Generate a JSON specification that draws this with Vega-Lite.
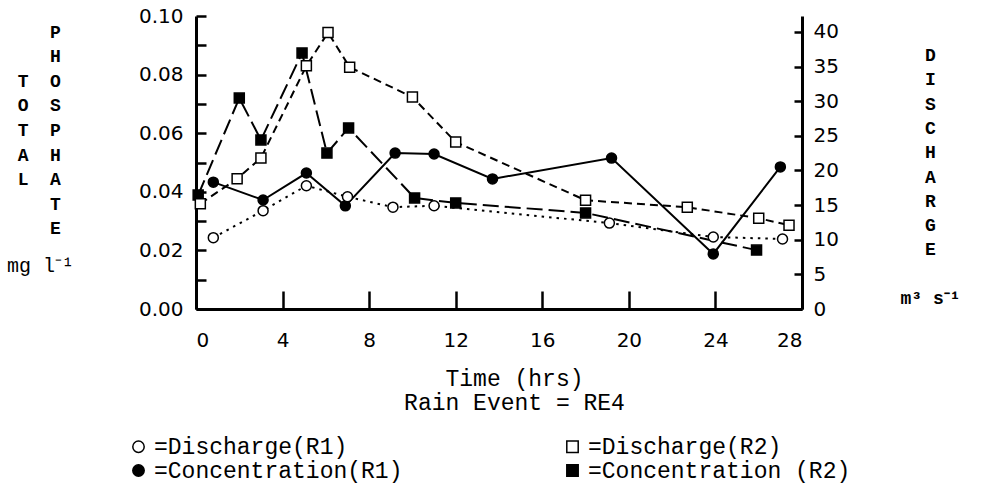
{
  "$schema": "https://vega.github.io/schema/vega-lite/v6.json",
  "width": 606,
  "height": 293,
  "autosize": "none",
  "padding": {"left": 196, "top": 16, "right": 187, "bottom": 175},
  "background": "white",
  "config": {
    "view": {"stroke": null},
    "axis": {"grid": false, "domainColor": "black", "tickColor": "black", "labelColor": "black", "titleColor": "black", "labelFont": "DejaVu Sans", "labelFontSize": 20, "titleFont": "Liberation Mono"},
    "legend": {"padding": 0}
  },
  "title": {"text": "mg l⁻¹", "orient": "top", "anchor": "start", "frame": "group", "font": "Liberation Mono", "fontSize": 20, "fontWeight": "normal", "color": "black", "dx": -189, "dy": 270, "offset": 0},
  "data": {"values": [
    {"s": "=Concentration(R1)", "k": "conc", "t": 0.8, "v": 0.0433},
    {"s": "=Concentration(R1)", "k": "conc", "t": 3.1, "v": 0.0372},
    {"s": "=Concentration(R1)", "k": "conc", "t": 5.1, "v": 0.0464},
    {"s": "=Concentration(R1)", "k": "conc", "t": 6.9, "v": 0.0352},
    {"s": "=Concentration(R1)", "k": "conc", "t": 9.2, "v": 0.0532},
    {"s": "=Concentration(R1)", "k": "conc", "t": 11.0, "v": 0.0529},
    {"s": "=Concentration(R1)", "k": "conc", "t": 13.7, "v": 0.0444},
    {"s": "=Concentration(R1)", "k": "conc", "t": 19.2, "v": 0.0515},
    {"s": "=Concentration(R1)", "k": "conc", "t": 23.9, "v": 0.0188},
    {"s": "=Concentration(R1)", "k": "conc", "t": 27.0, "v": 0.0485},
    {"s": "=Concentration (R2)", "k": "conc", "t": 0.1, "v": 0.0389},
    {"s": "=Concentration (R2)", "k": "conc", "t": 2.0, "v": 0.0720},
    {"s": "=Concentration (R2)", "k": "conc", "t": 3.0, "v": 0.0577},
    {"s": "=Concentration (R2)", "k": "conc", "t": 4.9, "v": 0.0874},
    {"s": "=Concentration (R2)", "k": "conc", "t": 6.05, "v": 0.0532},
    {"s": "=Concentration (R2)", "k": "conc", "t": 7.05, "v": 0.0618},
    {"s": "=Concentration (R2)", "k": "conc", "t": 10.1, "v": 0.0379},
    {"s": "=Concentration (R2)", "k": "conc", "t": 12.0, "v": 0.0362},
    {"s": "=Concentration (R2)", "k": "conc", "t": 18.0, "v": 0.0328},
    {"s": "=Concentration (R2)", "k": "conc", "t": 25.9, "v": 0.0201},
    {"s": "=Discharge(R1)", "k": "q", "t": 0.8, "v": 10.3},
    {"s": "=Discharge(R1)", "k": "q", "t": 3.1, "v": 14.2},
    {"s": "=Discharge(R1)", "k": "q", "t": 5.1, "v": 17.8},
    {"s": "=Discharge(R1)", "k": "q", "t": 7.0, "v": 16.2},
    {"s": "=Discharge(R1)", "k": "q", "t": 9.1, "v": 14.7},
    {"s": "=Discharge(R1)", "k": "q", "t": 11.0, "v": 14.9},
    {"s": "=Discharge(R1)", "k": "q", "t": 19.1, "v": 12.4},
    {"s": "=Discharge(R1)", "k": "q", "t": 23.9, "v": 10.4},
    {"s": "=Discharge(R1)", "k": "q", "t": 27.1, "v": 10.1},
    {"s": "=Discharge(R2)", "k": "q", "t": 0.2, "v": 15.2},
    {"s": "=Discharge(R2)", "k": "q", "t": 1.9, "v": 18.8},
    {"s": "=Discharge(R2)", "k": "q", "t": 3.0, "v": 21.8},
    {"s": "=Discharge(R2)", "k": "q", "t": 5.1, "v": 35.1},
    {"s": "=Discharge(R2)", "k": "q", "t": 6.1, "v": 39.9},
    {"s": "=Discharge(R2)", "k": "q", "t": 7.1, "v": 34.9},
    {"s": "=Discharge(R2)", "k": "q", "t": 10.0, "v": 30.6},
    {"s": "=Discharge(R2)", "k": "q", "t": 12.0, "v": 24.1},
    {"s": "=Discharge(R2)", "k": "q", "t": 18.0, "v": 15.7},
    {"s": "=Discharge(R2)", "k": "q", "t": 22.7, "v": 14.7},
    {"s": "=Discharge(R2)", "k": "q", "t": 26.0, "v": 13.1},
    {"s": "=Discharge(R2)", "k": "q", "t": 27.4, "v": 12.1}
  ]},
  "encoding": {
    "x": {"field": "t", "type": "quantitative", "scale": {"domain": [0, 28], "nice": false},
      "axis": {"values": [0, 4, 8, 12, 16, 20, 24, 28], "tickSize": -18, "tickWidth": 2.5, "domainWidth": 3, "labelPadding": 39, "labelFontSize": 20,
        "title": ["Time (hrs)", "Rain Event = RE4"], "titleFont": "Liberation Mono", "titleFontSize": 23, "titleFontWeight": "normal", "titleLineHeight": 24,
        "titleX": 318, "titleY": 58.5, "titleAlign": "center", "titleBaseline": "top", "titleAnchor": null}}
  },
  "layer": [
    {
      "transform": [{"filter": "datum.k === 'conc'"}],
      "encoding": {
        "y": {"field": "v", "type": "quantitative", "scale": {"domain": [0, 0.1], "nice": false, "zero": true},
          "axis": {"orient": "left", "values": [0, 0.01, 0.02, 0.03, 0.04, 0.05, 0.06, 0.07, 0.08, 0.09, 0.1],
            "labelExpr": "round(datum.value*100) % 2 === 0 ? format(datum.value, '.2f') : ''",
            "tickSize": -10, "tickWidth": 2.5, "domainWidth": 3, "labelPadding": 23, "labelFontSize": 20,
            "title": ["P", "H", "T\u00a0\u00a0O", "O\u00a0\u00a0S", "T\u00a0\u00a0P", "A\u00a0\u00a0H", "L\u00a0\u00a0A", "T", "E"],
            "titleFont": "Liberation Mono", "titleFontSize": 18, "titleFontWeight": "bold", "titleLineHeight": 24.6, "titleAngle": 0,
            "titleAlign": "right", "titleBaseline": "top", "titleX": -135.6, "titleY": 7}}
      },
      "layer": [
        {"transform": [{"filter": "datum.s === '=Concentration(R1)'"}], "mark": {"type": "line", "stroke": "black", "strokeWidth": 2}, "encoding": {}},
        {"transform": [{"filter": "datum.s === '=Concentration (R2)'"}], "mark": {"type": "line", "stroke": "black", "strokeWidth": 2, "strokeDash": [16, 6]}, "encoding": {}},
        {"mark": {"type": "point", "filled": true, "strokeWidth": 1.5, "size": 100, "opacity": 1},
          "encoding": {
            "shape": {"field": "s", "type": "nominal", "scale": {"domain": ["=Discharge(R1)", "=Discharge(R2)", "=Concentration(R1)", "=Concentration (R2)"], "range": ["circle", "square", "circle", "square"]},
              "legend": {"orient": "none", "legendX": -69, "legendY": 419, "direction": "horizontal", "columns": 2, "columnPadding": 158, "rowPadding": 0, "padding": 0, "title": null, "labelFont": "Liberation Mono", "labelFontSize": 23, "labelColor": "black", "symbolSize": 130, "symbolStrokeWidth": 1.5, "symbolStrokeColor": "black", "labelLimit": 500, "labelOffset": 4}},
            "fill": {"field": "s", "type": "nominal", "scale": {"domain": ["=Discharge(R1)", "=Discharge(R2)", "=Concentration(R1)", "=Concentration (R2)"], "range": ["white", "white", "black", "black"]},
              "legend": {"orient": "none", "legendX": -69, "legendY": 419, "direction": "horizontal", "columns": 2, "columnPadding": 158, "rowPadding": 0, "padding": 0, "title": null, "labelFont": "Liberation Mono", "labelFontSize": 23, "labelColor": "black", "symbolSize": 130, "symbolStrokeWidth": 1.5, "symbolStrokeColor": "black", "labelLimit": 500, "labelOffset": 4}},
            "stroke": {"field": "s", "type": "nominal", "scale": {"domain": ["=Discharge(R1)", "=Discharge(R2)", "=Concentration(R1)", "=Concentration (R2)"], "range": ["black", "black", "black", "black"]},
              "legend": {"orient": "none", "legendX": -69, "legendY": 419, "direction": "horizontal", "columns": 2, "columnPadding": 158, "rowPadding": 0, "padding": 0, "title": null, "labelFont": "Liberation Mono", "labelFontSize": 23, "labelColor": "black", "symbolSize": 130, "symbolStrokeWidth": 1.5, "symbolStrokeColor": "black", "labelLimit": 500, "labelOffset": 4}}
          }}
      ]
    },
    {
      "transform": [{"filter": "datum.k === 'q'"}],
      "encoding": {
        "y": {"field": "v", "type": "quantitative", "scale": {"domain": [0, 42.3], "nice": false, "zero": true},
          "axis": {"orient": "right", "values": [0, 5, 10, 15, 20, 25, 30, 35, 40], "tickSize": -8, "tickWidth": 2.5, "domainWidth": 3, "labelPadding": 19, "labelFontSize": 20,
            "title": ["D", "I", "S", "C", "H", "A", "R", "G", "E", "\u2800", "m³ s⁻¹"],
            "titleFont": "Liberation Mono", "titleFontSize": 18, "titleFontWeight": "bold", "titleLineHeight": 24.3, "titleAngle": 0,
            "titleAlign": "center", "titleBaseline": "top", "titleX": 128, "titleY": 30.5}}
      },
      "layer": [
        {"transform": [{"filter": "datum.s === '=Discharge(R1)'"}], "mark": {"type": "line", "stroke": "black", "strokeWidth": 2, "strokeDash": [2.5, 5]}, "encoding": {}},
        {"transform": [{"filter": "datum.s === '=Discharge(R2)'"}], "mark": {"type": "line", "stroke": "black", "strokeWidth": 2, "strokeDash": [8, 5]}, "encoding": {}},
        {"mark": {"type": "point", "filled": true, "strokeWidth": 1.5, "size": 100, "opacity": 1},
          "encoding": {
            "shape": {"field": "s", "type": "nominal", "scale": {"domain": ["=Discharge(R1)", "=Discharge(R2)", "=Concentration(R1)", "=Concentration (R2)"], "range": ["circle", "square", "circle", "square"]},
              "legend": {"orient": "none", "legendX": -69, "legendY": 419, "direction": "horizontal", "columns": 2, "columnPadding": 158, "rowPadding": 0, "padding": 0, "title": null, "labelFont": "Liberation Mono", "labelFontSize": 23, "labelColor": "black", "symbolSize": 130, "symbolStrokeWidth": 1.5, "symbolStrokeColor": "black", "labelLimit": 500, "labelOffset": 4}},
            "fill": {"field": "s", "type": "nominal", "scale": {"domain": ["=Discharge(R1)", "=Discharge(R2)", "=Concentration(R1)", "=Concentration (R2)"], "range": ["white", "white", "black", "black"]},
              "legend": {"orient": "none", "legendX": -69, "legendY": 419, "direction": "horizontal", "columns": 2, "columnPadding": 158, "rowPadding": 0, "padding": 0, "title": null, "labelFont": "Liberation Mono", "labelFontSize": 23, "labelColor": "black", "symbolSize": 130, "symbolStrokeWidth": 1.5, "symbolStrokeColor": "black", "labelLimit": 500, "labelOffset": 4}},
            "stroke": {"field": "s", "type": "nominal", "scale": {"domain": ["=Discharge(R1)", "=Discharge(R2)", "=Concentration(R1)", "=Concentration (R2)"], "range": ["black", "black", "black", "black"]},
              "legend": {"orient": "none", "legendX": -69, "legendY": 419, "direction": "horizontal", "columns": 2, "columnPadding": 158, "rowPadding": 0, "padding": 0, "title": null, "labelFont": "Liberation Mono", "labelFontSize": 23, "labelColor": "black", "symbolSize": 130, "symbolStrokeWidth": 1.5, "symbolStrokeColor": "black", "labelLimit": 500, "labelOffset": 4}}
          }}
      ]
    }
  ],
  "resolve": {"scale": {"y": "independent"}}
}
